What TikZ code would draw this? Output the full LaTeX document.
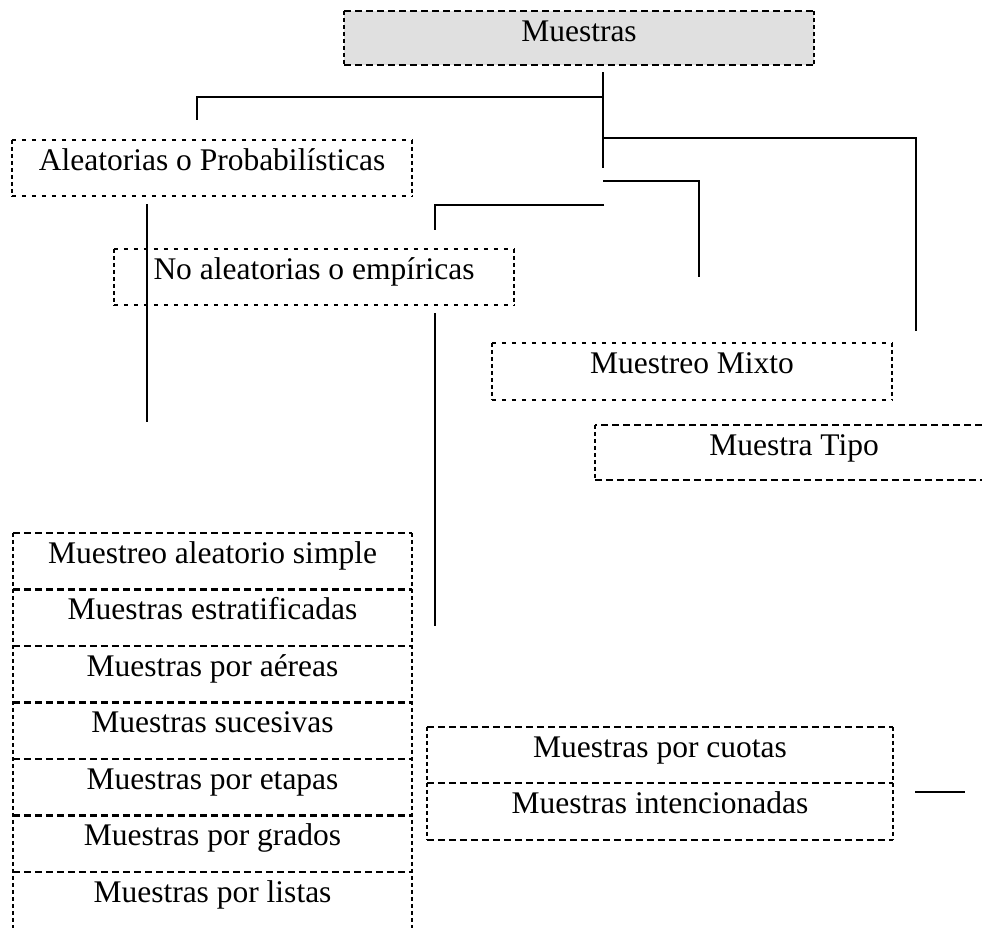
\documentclass[tikz,border=0pt]{standalone}
\usepackage{fontspec}
\setmainfont{Liberation Serif}
\begin{document}
\begin{tikzpicture}[x=1pt,y=-1pt,
  conn/.style={line width=2.4pt},
  hd/.style={line width=2.4pt, dash pattern=on 7pt off 4pt},
  sd/.style={line width=2.4pt, dash pattern=on 4.5pt off 5.5pt},
  vd/.style={line width=2.4pt, dash pattern=on 4.5pt off 2.5pt},
  boxn/.style={rectangle, inner sep=0pt, draw=none},
  txt/.style={inner sep=0pt, anchor=base, font=\fontsize{31.5}{36}\selectfont}]
\newcommand\dbox[3]{%
  \draw[#2] (#1.north west) -- (#1.north east) (#1.south west) -- (#1.south east);
  \draw[#3] (#1.north west) -- (#1.south west) (#1.north east) -- (#1.south east);}
\useasboundingbox (0,0) rectangle (982,927);
\fill[white] (0,0) rectangle (982,927);

% Muestras
\node[boxn, minimum width=470pt, minimum height=54pt, fill=black!12] (muestras) at (579,38) {};
\dbox{muestras}{hd}{vd}
\node[txt] (muestrasT) at (579,41) {Muestras};

% Aleatorias
\node[boxn, minimum width=400pt, minimum height=56pt] (alea) at (212,168) {};
\dbox{alea}{sd}{vd}
\node[txt] (aleaT) at (212,170) {Aleatorias o Probabilísticas};

% No aleatorias
\node[boxn, minimum width=400pt, minimum height=56pt] (noalea) at (314,277) {};
\dbox{noalea}{sd}{vd}
\node[txt] (noaleaT) at (314,279) {No aleatorias o empíricas};

% Muestreo Mixto
\node[boxn, minimum width=400pt, minimum height=57pt] (mixto) at (692,371.5) {};
\dbox{mixto}{sd}{vd}
\node[txt] (mixtoT) at (692,373) {Muestreo Mixto};

% Muestra Tipo (open to the right)
\node[boxn, minimum width=387pt, minimum height=55pt] (tipo) at (788.5,452.5) {};
\draw[hd] (tipo.north east) -- (tipo.north west) (tipo.south west) -- (tipo.south east);
\draw[vd] (tipo.north west) -- (tipo.south west);
\node[txt] (tipoT) at (794,455) {Muestra Tipo};

% List of probabilistic samples
\node[boxn, minimum width=399pt, minimum height=56.5pt] (r1) at (212.5,561.25) {};
\node[boxn, minimum width=399pt, minimum height=56.5pt] (r2) at (212.5,617.75) {};
\node[boxn, minimum width=399pt, minimum height=56.5pt] (r3) at (212.5,674.25) {};
\node[boxn, minimum width=399pt, minimum height=56.5pt] (r4) at (212.5,730.75) {};
\node[boxn, minimum width=399pt, minimum height=56.5pt] (r5) at (212.5,787.25) {};
\node[boxn, minimum width=399pt, minimum height=56.5pt] (r6) at (212.5,843.75) {};
\node[boxn, minimum width=399pt, minimum height=56.5pt] (r7) at (212.5,900.25) {};
\foreach \r in {r1,r2,r3,r4,r5,r6,r7}{\draw[hd] (\r.north west) -- (\r.north east);}
\draw[vd] (r1.north west) -- (r7.south west) (r1.north east) -- (r7.south east);
\node[txt] (r1T) at (212.5,563) {Muestreo aleatorio simple};
\node[txt] (r2T) at (212.5,619.5) {Muestras estratificadas};
\node[txt] (r3T) at (212.5,676) {Muestras por aéreas};
\node[txt] (r4T) at (212.5,732.5) {Muestras sucesivas};
\node[txt] (r5T) at (212.5,789) {Muestras por etapas};
\node[txt] (r6T) at (212.5,845.5) {Muestras por grados};
\node[txt] (r7T) at (212.5,902) {Muestras por listas};

% Cuotas / intencionadas
\node[boxn, minimum width=466pt, minimum height=56pt] (q1) at (660,755) {};
\node[boxn, minimum width=466pt, minimum height=57pt] (q2) at (660,811.5) {};
\draw[hd] (q1.north west) -- (q1.north east) (q2.north west) -- (q2.north east) (q2.south west) -- (q2.south east);
\draw[vd] (q1.north west) -- (q2.south west) (q1.north east) -- (q2.south east);
\node[txt] (q1T) at (660,757) {Muestras por cuotas};
\node[txt] (q2T) at (660,813) {Muestras intencionadas};

% connectors
\coordinate (t0) at (603,72);  \coordinate (t1) at (603,168);
\coordinate (a0) at (603,97);  \coordinate (a1) at (197,97);  \coordinate (a2) at (197,120);
\coordinate (b0) at (603,138); \coordinate (b1) at (916,138); \coordinate (b2) at (916,331);
\coordinate (c0) at (603,181); \coordinate (c1) at (699,181); \coordinate (c2) at (699,277);
\coordinate (d0) at (604,205); \coordinate (d1) at (435,205); \coordinate (d2) at (435,230);
\coordinate (e0) at (147,204); \coordinate (e1) at (147,422);
\coordinate (f0) at (435,313); \coordinate (f1) at (435,626);
\coordinate (g0) at (915,792); \coordinate (g1) at (965,792);
\draw[conn] (t0) -- (t1);
\draw[conn] (a0) -- (a1) -- (a2);
\draw[conn] (b0) -- (b1) -- (b2);
\draw[conn] (c0) -- (c1) -- (c2);
\draw[conn] (d0) -- (d1) -- (d2);
\draw[conn] (e0) -- (e1);
\draw[conn] (f0) -- (f1);
\draw[conn] (g0) -- (g1);
\end{tikzpicture}
\end{document}
